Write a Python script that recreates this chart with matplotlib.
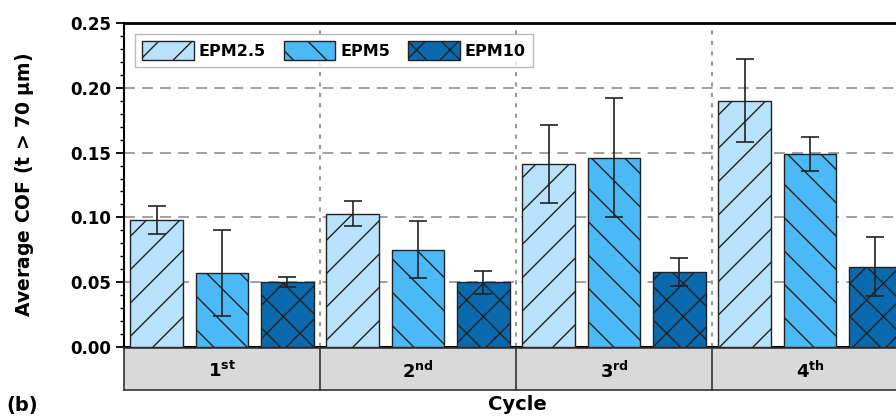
import numpy as np
import matplotlib
matplotlib.use('Agg')
import matplotlib.pyplot as plt
from matplotlib.ticker import MultipleLocator, FormatStrFormatter

plt.rcParams['font.family'] = ['DejaVu Sans']
plt.rcParams['font.weight'] = 'bold'
plt.rcParams['hatch.linewidth'] = 1.0
plt.rcParams['mathtext.fontset'] = 'dejavusans'

# ---- data ----
cycles = ['1', '2', '3', '4']
suffixes = ['st', 'nd', 'rd', 'th']
series = ['EPM2.5', 'EPM5', 'EPM10']
means = {
    'EPM2.5': [0.098, 0.103, 0.141, 0.190],
    'EPM5':   [0.057, 0.075, 0.146, 0.149],
    'EPM10':  [0.050, 0.050, 0.058, 0.062],
}
errs = {
    'EPM2.5': [0.011, 0.010, 0.030, 0.032],
    'EPM5':   [0.033, 0.022, 0.046, 0.013],
    'EPM10':  [0.004, 0.009, 0.011, 0.023],
}
colors = ['#b8e2fb', '#4ab9f6', '#0b69ad']
hatches = ['/', '\\', 'x']

W, H = 896, 417
fig = plt.figure(figsize=(W / 100, H / 100), dpi=100)
ax = fig.add_axes([124 / W, 70 / H, 784 / W, 324 / H])
strip = fig.add_axes([124 / W, 27 / H, 784 / W, 42 / H])

x = np.arange(1, len(cycles) + 1)
offsets = [-0.334, 0.0, 0.334]
bw = 0.27
for s, off, c, h in zip(series, offsets, colors, hatches):
    ax.bar(x + off, means[s], bw, yerr=errs[s], color=c, edgecolor='#222222',
           linewidth=1.0, hatch=h, label=s, zorder=3,
           error_kw=dict(ecolor='#222222', elinewidth=1.2, capsize=6.5, capthick=1.2))

ax.set_xlim(0.5, len(cycles) + 0.5)
ax.set_ylim(0, 0.25)
ax.set_xticks([])
ax.yaxis.set_major_locator(MultipleLocator(0.05))
ax.yaxis.set_minor_locator(MultipleLocator(0.01))
ax.yaxis.set_major_formatter(FormatStrFormatter('%.2f'))
ax.tick_params(axis='y', which='major', length=6, width=1.3, labelsize=12, direction='out')
ax.tick_params(axis='y', which='minor', length=3, width=1.0, direction='out')

for yv in [0.05, 0.10, 0.15, 0.20]:
    ax.axhline(yv, color='#999999', lw=1.3, ls=(0, (6, 4)), zorder=1)
for xv in x[:-1] + 0.5:
    ax.axvline(xv, color='#999999', lw=1.5, ls=(0, (2, 3)), zorder=1)

ax.spines['left'].set_linewidth(1.5)
ax.spines['bottom'].set_linewidth(2.2)
ax.spines['top'].set_linewidth(2.0)
ax.set_ylabel(r'Average COF (t > 70 $\mathrm{\mu}$m)', fontsize=13.5, fontweight='bold', labelpad=24)

leg = ax.legend(loc='upper left', ncol=3, fontsize=11.5, frameon=True, fancybox=False,
                edgecolor='#aaaaaa', handlelength=3.25, handleheight=1.45,
                columnspacing=1.1, handletextpad=0.3, borderpad=0.45, borderaxespad=0,
                bbox_to_anchor=(0.014, 0.966))
leg.get_frame().set_linewidth(1.0)

# category strip
strip.set_facecolor('#d9d9d9')
strip.set_xlim(ax.get_xlim())
strip.set_ylim(0, 1)
strip.set_xticks([])
strip.set_yticks([])
for sp in strip.spines.values():
    sp.set_linewidth(1.2)
    sp.set_color('#333333')
for xv in x[:-1] + 0.5:
    strip.axvline(xv, color='#333333', lw=1.2)
for xi, c, sf in zip(x, cycles, suffixes):
    strip.text(xi, 0.45, c + r'$^{\mathbf{' + sf + '}}$', ha='center', va='center',
               fontsize=13, fontweight='bold')

fig.text(517 / W, 1 - 405 / H, 'Cycle', ha='center', va='center', fontsize=14, fontweight='bold')
fig.text(6 / W, 1 - 405 / H, '(b)', ha='left', va='center', fontsize=14, fontweight='bold')

fig.savefig('out.png', dpi=100)
